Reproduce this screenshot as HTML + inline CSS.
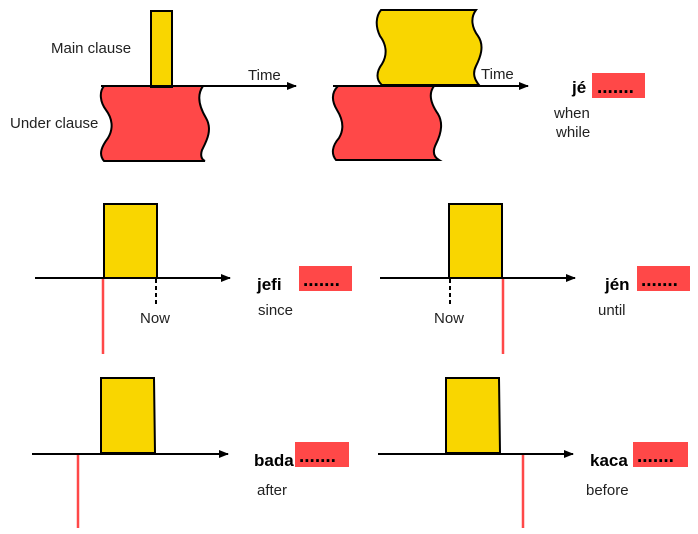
<!DOCTYPE html>
<html><head><style>
html,body{margin:0;padding:0;background:#fff;}
svg{display:block;}
text{font-family:"Liberation Sans",sans-serif;fill:#222;}
.t{font-size:15px;}
.b{font-size:17px;font-weight:bold;fill:#000;}
.d{font-size:19px;font-weight:bold;fill:#000;letter-spacing:0px;}
</style></head><body>
<svg width="698" height="534" viewBox="0 0 698 534" xmlns="http://www.w3.org/2000/svg">
<defs>
<marker id="ar" markerWidth="10" markerHeight="8" refX="9" refY="4" orient="auto" markerUnits="userSpaceOnUse">
<path d="M0,0 L10,4 L0,8 z" fill="#000"/>
</marker>
</defs>

<!-- Top left -->
<path d="M104,86 L203,86 C196,96 200,108 206,118 C213,130 206,142 202,150 C200,156 202,160 205,161 L104,161 C98,154 102,146 108,138 C114,128 112,118 106,110 C100,102 99,92 104,86 Z" fill="#FF4848" stroke="#000" stroke-width="2"/>
<rect x="151" y="11" width="21" height="76" fill="#F9D600" stroke="#000" stroke-width="2"/>
<line x1="101" y1="86" x2="296" y2="86" stroke="#000" stroke-width="2" marker-end="url(#ar)"/>
<text x="51" y="53" class="t">Main clause</text>
<text x="10" y="128" class="t">Under clause</text>
<text x="248" y="80" class="t">Time</text>

<!-- Top middle -->
<path d="M381,10 L476,10 C470,18 472,28 478,36 C485,46 480,58 476,66 C472,74 475,80 479,85 L382,85 C376,80 376,72 382,64 C388,54 386,44 380,36 C375,26 376,16 381,10 Z" fill="#F9D600" stroke="#000" stroke-width="2"/>
<path d="M338,86 L434,86 C428,94 431,104 438,114 C444,124 440,136 436,144 C432,152 434,157 439,160 L336,160 C331,154 332,146 339,138 C345,128 342,118 337,110 C331,100 332,92 338,86 Z" fill="#FF4848" stroke="#000" stroke-width="2"/>
<line x1="333" y1="86" x2="528" y2="86" stroke="#000" stroke-width="2" marker-end="url(#ar)"/>
<text x="481" y="79" class="t">Time</text>
<text x="572" y="93" class="b">jé</text>
<rect x="592" y="73" width="53" height="25" fill="#FF4848"/>
<text x="597" y="93" class="d">.......</text>
<text x="554" y="118" class="t">when</text>
<text x="556" y="137" class="t">while</text>

<!-- Row 2 left -->
<rect x="104" y="204" width="53" height="74" fill="#F9D600" stroke="#000" stroke-width="2"/>
<line x1="35" y1="278" x2="230" y2="278" stroke="#000" stroke-width="2" marker-end="url(#ar)"/>
<line x1="103" y1="279" x2="103" y2="354" stroke="#FF4848" stroke-width="2.5"/>
<line x1="156" y1="279" x2="156" y2="306" stroke="#000" stroke-width="2" stroke-dasharray="4,3"/>
<text x="140" y="323" class="t">Now</text>
<text x="257" y="290" class="b">jefi</text>
<rect x="299" y="266" width="53" height="25" fill="#FF4848"/>
<text x="303" y="286" class="d">.......</text>
<text x="258" y="315" class="t">since</text>

<!-- Row 2 right -->
<rect x="449" y="204" width="53" height="74" fill="#F9D600" stroke="#000" stroke-width="2"/>
<line x1="380" y1="278" x2="575" y2="278" stroke="#000" stroke-width="2" marker-end="url(#ar)"/>
<line x1="503" y1="279" x2="503" y2="354" stroke="#FF4848" stroke-width="2.5"/>
<line x1="450" y1="279" x2="450" y2="306" stroke="#000" stroke-width="2" stroke-dasharray="4,3"/>
<text x="434" y="323" class="t">Now</text>
<text x="605" y="290" class="b">jén</text>
<rect x="637" y="266" width="53" height="25" fill="#FF4848"/>
<text x="641" y="286" class="d">.......</text>
<text x="598" y="315" class="t">until</text>

<!-- Row 3 left -->
<path d="M101,378 L154,378 L155,453 L101,453 Z" fill="#F9D600" stroke="#000" stroke-width="2"/>
<line x1="32" y1="454" x2="228" y2="454" stroke="#000" stroke-width="2" marker-end="url(#ar)"/>
<line x1="78" y1="455" x2="78" y2="528" stroke="#FF4848" stroke-width="2.5"/>
<text x="254" y="466" class="b">bada</text>
<rect x="295" y="442" width="54" height="25" fill="#FF4848"/>
<text x="299" y="462" class="d">.......</text>
<text x="257" y="495" class="t">after</text>

<!-- Row 3 right -->
<path d="M446,378 L499,378 L500,453 L446,453 Z" fill="#F9D600" stroke="#000" stroke-width="2"/>
<line x1="378" y1="454" x2="573" y2="454" stroke="#000" stroke-width="2" marker-end="url(#ar)"/>
<line x1="523" y1="455" x2="523" y2="528" stroke="#FF4848" stroke-width="2.5"/>
<text x="590" y="466" class="b">kaca</text>
<rect x="633" y="442" width="55" height="25" fill="#FF4848"/>
<text x="637" y="462" class="d">.......</text>
<text x="586" y="495" class="t">before</text>
</svg>
</body></html>
